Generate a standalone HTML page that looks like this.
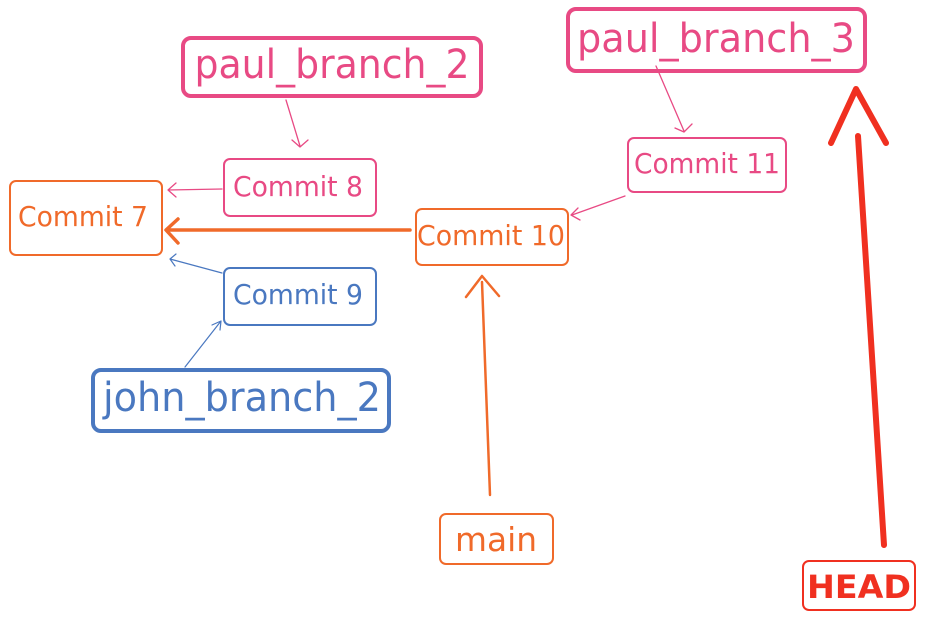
<!DOCTYPE html>
<html><head><style>
body{margin:0;background:#fff;width:934px;height:621px;overflow:hidden}
svg text{font-family:"DejaVu Sans","Liberation Sans",sans-serif}
</style></head><body>
<svg width="934" height="621" viewBox="0 0 934 621" xmlns="http://www.w3.org/2000/svg" fill="none" stroke-linecap="round" stroke-linejoin="round">
<rect x="183" y="38" width="298" height="58" rx="8" stroke="#e84a84" stroke-width="4"/>
<text x="332" y="78" text-anchor="middle" font-size="40" fill="#e84a84" stroke="none" textLength="275" lengthAdjust="spacingAndGlyphs">paul_branch_2</text>
<rect x="568" y="9" width="297" height="62" rx="8" stroke="#e84a84" stroke-width="4"/>
<text x="716" y="52" text-anchor="middle" font-size="40" fill="#e84a84" stroke="none" textLength="278" lengthAdjust="spacingAndGlyphs">paul_branch_3</text>
<rect x="224" y="159" width="152" height="57" rx="6" stroke="#e84a84" stroke-width="2"/>
<text x="298" y="196" text-anchor="middle" font-size="28" fill="#e84a84" stroke="none" textLength="130" lengthAdjust="spacingAndGlyphs">Commit 8</text>
<rect x="628" y="138" width="158" height="54" rx="6" stroke="#e84a84" stroke-width="2"/>
<text x="707" y="173" text-anchor="middle" font-size="28" fill="#e84a84" stroke="none" textLength="146" lengthAdjust="spacingAndGlyphs">Commit 11</text>
<rect x="10" y="181" width="152" height="74" rx="6" stroke="#f06a2a" stroke-width="2"/>
<text x="83" y="226" text-anchor="middle" font-size="28" fill="#f06a2a" stroke="none" textLength="130" lengthAdjust="spacingAndGlyphs">Commit 7</text>
<rect x="416" y="209" width="152" height="56" rx="6" stroke="#f06a2a" stroke-width="2"/>
<text x="491" y="245" text-anchor="middle" font-size="28" fill="#f06a2a" stroke="none" textLength="148" lengthAdjust="spacingAndGlyphs">Commit 10</text>
<rect x="224" y="268" width="152" height="57" rx="6" stroke="#4a78c0" stroke-width="2"/>
<text x="298" y="304" text-anchor="middle" font-size="28" fill="#4a78c0" stroke="none" textLength="130" lengthAdjust="spacingAndGlyphs">Commit 9</text>
<rect x="93" y="370" width="296" height="61" rx="8" stroke="#4a78c0" stroke-width="4"/>
<text x="242" y="411" text-anchor="middle" font-size="40" fill="#4a78c0" stroke="none" textLength="278" lengthAdjust="spacingAndGlyphs">john_branch_2</text>
<rect x="440" y="514" width="113" height="50" rx="6" stroke="#f06a2a" stroke-width="2"/>
<text x="496" y="551" text-anchor="middle" font-size="33" fill="#f06a2a" stroke="none" textLength="82" lengthAdjust="spacingAndGlyphs">main</text>
<rect x="803" y="561" width="112" height="49" rx="6" stroke="#f03020" stroke-width="2"/>
<text x="859" y="598" text-anchor="middle" font-size="32" font-weight="bold" fill="#f03020" stroke="none" textLength="104" lengthAdjust="spacingAndGlyphs">HEAD</text>
<g stroke="#e84a84" stroke-width="1.3">
<path d="M286 100 L300 146 M292 140 L300 147 L308 140"/>
<path d="M656 66 L684 131 M675 128 L684 132 L692 124"/>
<path d="M222 189 L168 190 M176 183 L168 190 L176 197"/>
<path d="M625 196 L572 215 M578 208 L571 215 L580 220"/>
</g>
<g stroke="#4a78c0" stroke-width="1.2">
<path d="M222 273 L170 259 M176 254 L170 259 L175 266"/>
<path d="M185 367 L221 321 M212 325 L221 321 L220 330"/>
</g>
<g stroke="#f06a2a" stroke-width="3.5">
<path d="M410 230 L170 230 M178 219 L166 230 L178 243"/>
</g>
<g stroke="#f06a2a" stroke-width="2.5">
<path d="M490 495 L482 282 M466 297 L482 276 L499 296"/>
</g>
<g stroke="#f03020" stroke-width="6">
<path d="M884 545 L858 136 M831 143 L856 89 L886 143"/>
</g>
</svg>
</body></html>
